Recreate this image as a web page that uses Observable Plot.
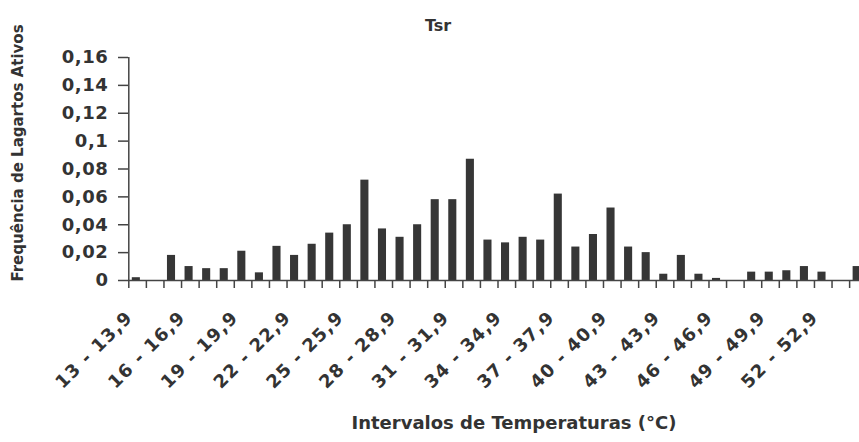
<!DOCTYPE html>
<html><head><meta charset="utf-8">
<script src="https://cdn.jsdelivr.net/npm/d3@7"></script>
<script src="https://cdn.jsdelivr.net/npm/@observablehq/plot@0.6"></script>
<style>
html,body{margin:0;padding:0;background:#fff;overflow:hidden;}
g[aria-label="x-axis tick label"] text{letter-spacing:1.2px;}
g[aria-label="y-axis tick label"] text{letter-spacing:0.6px;}
</style></head><body><div id="chart"></div>
<script>
const title = "Tsr";
const xLabel = "Intervalos de Temperaturas (°C)";
const yLabel = "Frequência de Lagartos Ativos";
// start of each 1 °C interval (13 - 13,9 ... 54 - 54,9)
const intervalStarts = [13,14,15,16,17,18,19,20,21,22,23,24,25,26,27,28,29,30,31,32,33,34,35,36,37,38,39,40,41,42,43,44,45,46,47,48,49,50,51,52,53,54];
const frequencies = [0.002,0,0.018,0.010,0.0085,0.0085,0.021,0.0055,0.0245,0.018,
  0.026,0.034,0.040,0.072,0.037,0.031,0.040,0.058,0.058,0.087,
  0.029,0.027,0.031,0.029,0.062,0.024,0.033,0.052,0.024,0.020,
  0.0045,0.018,0.0045,0.0015,0,0.006,0.006,0.007,0.010,0.006,0,0.010];
const yTicks = [0,0.02,0.04,0.06,0.08,0.1,0.12,0.14,0.16];
const labelledStarts = [13,16,19,22,25,28,31,34,37,40,43,46,49,52];

const data = intervalStarts.map((t, i) => ({t, f: frequencies[i]}));
const boundaries = intervalStarts.concat([intervalStarts[intervalStarts.length - 1] + 1]);
const fmtY = d => d === 0 ? "0" : String(d).replace(".", ",");
const fmtInterval = c => { const t = c - 0.5; return `${t} - ${t},9`; };
const ink = "#333";

const chart = Plot.plot({
  width: 859, height: 442,
  marginTop: 57, marginBottom: 162, marginLeft: 128, marginRight: 0,
  style: {fontFamily: "DejaVu Sans", fontWeight: "bold", color: ink, background: "white", overflow: "hidden"},
  x: {type: "linear", domain: [13, 55], range: [128.3, 866.7], axis: null},
  y: {domain: [0, 0.16], range: [280, 57], axis: null},
  marks: [
    Plot.rect(data, {x1: "t", x2: d => d.t + 1, y1: 0, y2: "f", insetLeft: 3.5, insetRight: 6, fill: "#363636"}),
    Plot.ruleY([0], {stroke: "#444", strokeWidth: 1.5}),
    Plot.ruleX([13], {y1: 0, y2: 0.16, stroke: "#444", strokeWidth: 1.5}),
    Plot.axisY({ticks: yTicks, tickFormat: fmtY, tickSize: 10, tickPadding: 10, fontSize: 18, label: null, stroke: "#444", strokeWidth: 1.5}),
    Plot.axisX({ticks: boundaries, tickFormat: () => "", tickSize: 8, label: null, stroke: "#444", strokeWidth: 1.5}),
    Plot.axisX({ticks: labelledStarts.map(t => t + 0.5), tickFormat: fmtInterval, tickSize: 0, tickRotate: -45, tickPadding: 34, dx: -8, fontSize: 18, label: null}),
    Plot.text([title], {frameAnchor: "top", dx: -56, dy: -38, fontSize: 16, fill: ink}),
    Plot.text([yLabel], {frameAnchor: "left", textAnchor: "middle", rotate: -90, dx: -110, dy: -16, fontSize: 15, fill: ink}),
    Plot.text([xLabel], {frameAnchor: "bottom", dx: 20, dy: 148, fontSize: 18, fill: ink})
  ]
});
document.getElementById("chart").appendChild(chart);
</script></body></html>
